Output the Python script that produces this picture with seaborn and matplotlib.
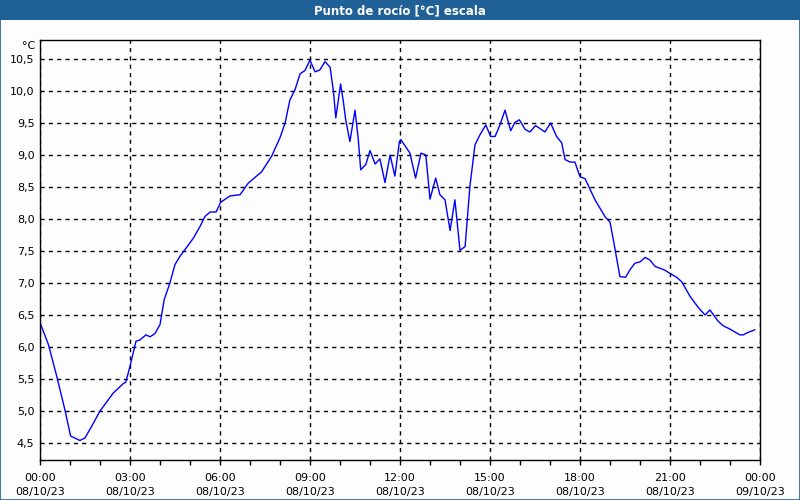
import matplotlib
matplotlib.use("Agg")
import matplotlib.pyplot as plt
from matplotlib.patches import Rectangle
from matplotlib.ticker import FixedLocator, MultipleLocator
import seaborn as sns
import pandas as pd

# Data (hours since 08/10/23 00:00, dew point in °C)
hours = [0.00, 0.28, 0.56, 0.83, 1.02, 1.33, 1.50, 1.72, 2.00, 2.44, 2.78, 2.86,
         3.00, 3.20, 3.33, 3.53, 3.67, 3.83, 4.00, 4.14, 4.33, 4.50, 4.67, 4.83,
         5.11, 5.33, 5.50, 5.67, 5.87, 6.02, 6.33, 6.67, 6.94, 7.39, 7.72, 8.00,
         8.17, 8.33, 8.50, 8.67, 8.83, 9.00, 9.17, 9.33, 9.50, 9.67, 9.78, 9.86,
         10.02, 10.11, 10.19, 10.33, 10.50, 10.61, 10.69, 10.86, 11.00, 11.17,
         11.33, 11.50, 11.67, 11.83, 11.98, 12.03, 12.33, 12.52, 12.70, 12.86,
         13.00, 13.19, 13.33, 13.50, 13.67, 13.83, 14.00, 14.17, 14.33, 14.50,
         14.67, 14.86, 15.02, 15.17, 15.33, 15.50, 15.69, 15.83, 15.98, 16.17,
         16.33, 16.52, 16.83, 17.02, 17.22, 17.39, 17.50, 17.67, 17.83, 18.00,
         18.17, 18.50, 18.83, 19.00, 19.11, 19.33, 19.52, 19.67, 19.83, 20.00,
         20.17, 20.33, 20.50, 20.67, 20.83, 21.00, 21.22, 21.39, 21.67, 21.94,
         22.17, 22.33, 22.61, 22.78, 23.00, 23.33, 23.44, 23.61, 23.83]
dew_point = [6.38, 6.04, 5.54, 5.02, 4.61, 4.54, 4.58, 4.76, 5.00, 5.28, 5.43, 5.45,
             5.70, 6.09, 6.11, 6.19, 6.16, 6.21, 6.35, 6.74, 7.00, 7.29, 7.42, 7.52,
             7.70, 7.88, 8.04, 8.11, 8.11, 8.26, 8.36, 8.38, 8.56, 8.74, 8.98, 9.27,
             9.50, 9.86, 10.02, 10.27, 10.32, 10.48, 10.30, 10.33, 10.46, 10.37, 10.00, 9.58,
             10.11, 9.84, 9.55, 9.21, 9.70, 9.24, 8.77, 8.85, 9.07, 8.86,
             8.94, 8.57, 9.00, 8.67, 9.21, 9.24, 9.03, 8.64, 9.03, 9.00,
             8.31, 8.64, 8.38, 8.30, 7.82, 8.30, 7.51, 7.57, 8.51, 9.16,
             9.32, 9.47, 9.29, 9.29, 9.47, 9.70, 9.38, 9.51, 9.55, 9.40,
             9.36, 9.46, 9.36, 9.50, 9.29, 9.19, 8.93, 8.89, 8.89, 8.66,
             8.63, 8.30, 8.04, 7.95, 7.68, 7.10, 7.09, 7.21, 7.31, 7.33,
             7.40, 7.36, 7.26, 7.23, 7.20, 7.15, 7.09, 7.02, 6.79, 6.62,
             6.50, 6.58, 6.40, 6.33, 6.28, 6.19, 6.19, 6.23, 6.27]

x_tick_hours = [0, 3, 6, 9, 12, 15, 18, 21, 24]
x_tick_labels = ["00:00\n08/10/23", "03:00\n08/10/23", "06:00\n08/10/23",
                 "09:00\n08/10/23", "12:00\n08/10/23", "15:00\n08/10/23",
                 "18:00\n08/10/23", "21:00\n08/10/23", "00:00\n09/10/23"]
y_ticks = [4.5, 5.0, 5.5, 6.0, 6.5, 7.0, 7.5, 8.0, 8.5, 9.0, 9.5, 10.0, 10.5]
title = "Punto de rocío [°C] escala"
unit = "°C"

df = pd.DataFrame({"hora": hours, "punto": dew_point})

sns.set_style("white")
plt.rcParams["font.family"] = ["DejaVu Sans"]

fig = plt.figure(figsize=(8, 5), dpi=100, facecolor="#fcfdfc")
ax = fig.add_axes([0.05, 0.08, 0.90, 0.84])
ax.set_facecolor("#fcfdfc")

sns.lineplot(data=df, x="hora", y="punto", ax=ax, color="#0000ff", linewidth=1.0)

ax.set_xlim(0, 24)
ax.set_ylim(4.235, 10.797)
ax.xaxis.set_major_locator(FixedLocator(x_tick_hours))
ax.xaxis.set_minor_locator(MultipleLocator(1))
ax.set_xticklabels(x_tick_labels, fontsize=8, linespacing=1.45)
ax.set_yticks(y_ticks)
ax.set_yticklabels([f"{v:.1f}".replace(".", ",") for v in y_ticks], fontsize=8)
ax.set_xlabel("")
ax.set_ylabel("")

ax.tick_params(axis="x", which="both", direction="out", length=3.5, width=1,
               color="black", labelcolor="black", bottom=True, pad=6)
ax.tick_params(axis="y", which="both", length=0, pad=4, labelcolor="black")

ax.grid(True, which="major", color="black", linestyle=(0, (3, 3)), linewidth=1)
for s in ax.spines.values():
    s.set_visible(True)
    s.set_color("black")
    s.set_linewidth(1)

ax.text(-0.007, 0.985, unit, transform=ax.transAxes, ha="right", va="center",
        fontsize=8, color="black")

# title bar
fig.patches.append(Rectangle((0, 0.96), 1, 0.04, transform=fig.transFigure,
                             facecolor="#1f6096", edgecolor="none", zorder=0))
fig.text(0.5, 0.979, title, ha="center", va="center", color="white",
         fontsize=8.5, fontweight="bold")
# outer border
fig.patches.append(Rectangle((0.0006, 0.001), 0.9988, 0.998, transform=fig.transFigure,
                             facecolor="none", edgecolor="#1f6096", linewidth=1.2, zorder=5))

fig.savefig("out.png", dpi=100, facecolor=fig.get_facecolor())
